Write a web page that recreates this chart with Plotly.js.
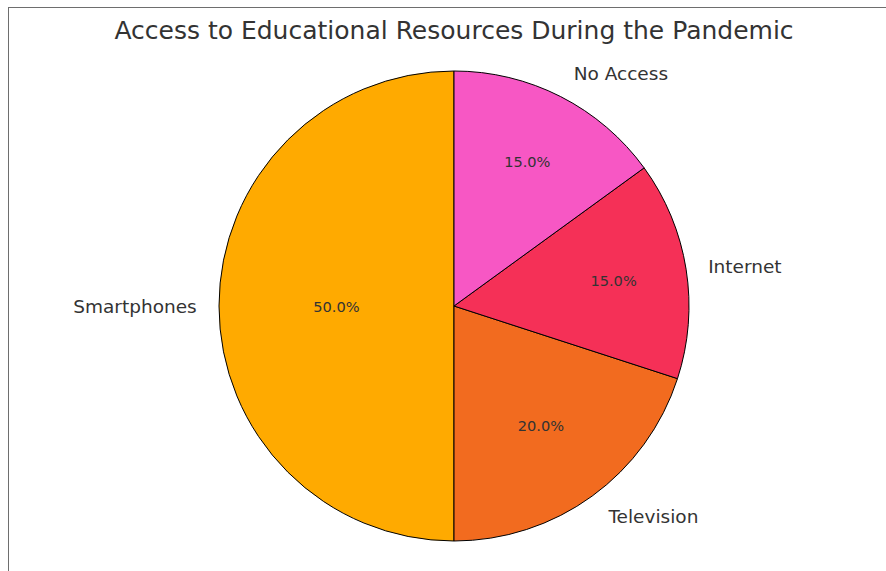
<!DOCTYPE html>
<html>
<head>
<meta charset="utf-8">
<script src="https://cdn.plot.ly/plotly-3.0.1.min.js"></script>
<style>
  html, body { margin: 0; padding: 0; background: #fff; overflow: hidden; }
  #wrap { position: relative; width: 886px; height: 571px; }
  #chart { position: absolute; left: 0; top: 0; width: 886px; height: 571px; }
  #frame { position: absolute; left: 8px; top: 7px; width: 900px; height: 600px;
           border-top: 1.5px solid #6e6e6e; border-left: 1.5px solid #6e6e6e; pointer-events: none; }
</style>
</head>
<body>
<div id="wrap">
  <div id="chart"></div>
  <div id="frame"></div>
</div>
<script>
const categories = ["Smartphones", "Television", "Internet", "No Access"];
const shares = [50, 20, 15, 15];
const sliceColors = ["#FFAA00", "#F26B1F", "#F53057", "#F757C4"];
const chartTitle = "Access to Educational Resources During the Pandemic";

const W = 886, H = 571, CX = 454, CY = 306, R = 235, RL = 252;
const dom = { x: [(CX - R)/W, (CX + R)/W], y: [(H - CY - R)/H, (H - CY + R)/H] };
const labelDom = { x: [(CX - RL)/W, (CX + RL)/W], y: [(H - CY - RL)/H, (H - CY + RL)/H] };

const pieBase = {
  type: "pie",
  labels: categories,
  values: shares,
  sort: false,
  direction: "counterclockwise",
  rotation: 180,
  hoverinfo: "label+percent",
  showlegend: false
};

const slices = Object.assign({}, pieBase, {
  domain: dom,
  marker: { colors: sliceColors, line: { color: "#000000", width: 1 } },
  textinfo: "percent",
  texttemplate: "%{percent:.1%}",
  textposition: "inside",
  insidetextorientation: "horizontal",
  textfont: { family: "DejaVu Sans", size: 14.6, color: "#333333" }
});

const outerLabels = Object.assign({}, pieBase, {
  domain: labelDom,
  marker: { colors: ["rgba(0,0,0,0)","rgba(0,0,0,0)","rgba(0,0,0,0)","rgba(0,0,0,0)"], line: { width: 0 } },
  textinfo: "label",
  texttemplate: "%{label}",
  textposition: "outside",
  textfont: { family: "DejaVu Sans", size: 18.5, color: "#333333" },
  hoverinfo: "skip"
});

const layout = {
  width: W,
  height: H,
  margin: { l: 0, r: 0, t: 0, b: 0 },
  paper_bgcolor: "#ffffff",
  title: {
    text: chartTitle,
    font: { family: "DejaVu Sans", size: 25, color: "#333333" },
    x: CX/W, xanchor: "center",
    y: 1 - 30/H, yanchor: "middle"
  }
};

Plotly.newPlot("chart", [slices, outerLabels], layout, { displayModeBar: false, staticPlot: true });
</script>
</body>
</html>
